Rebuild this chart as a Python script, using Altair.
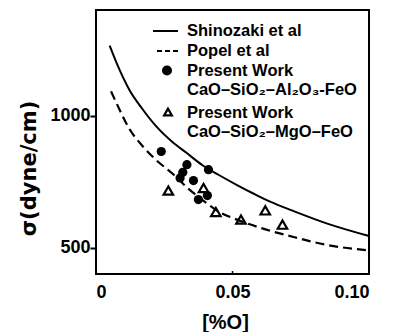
import altair as alt
import pandas as pd

# Curves
SHINOZAKI_X = [0.005, 0.0086, 0.0122, 0.017, 0.022, 0.028, 0.033, 0.039, 0.045, 0.052, 0.058, 0.064, 0.072, 0.085, 0.1]
SHINOZAKI_Y = [1265, 1174, 1098, 1025, 960, 900, 860, 812, 775, 735, 703, 673, 640, 590, 544]
POPEL_X = [0.0055, 0.0086, 0.0122, 0.0171, 0.022, 0.0284, 0.0333, 0.0394, 0.0455, 0.0516, 0.0602, 0.0724, 0.0847, 0.1]
POPEL_Y = [1092, 1023, 950, 884, 832, 777, 728, 677, 633, 606, 575, 540, 510, 489]

# Present work points
AL_X = [0.0239, 0.0333, 0.0318, 0.0308, 0.0357, 0.0412, 0.0408, 0.0375]
AL_Y = [864, 814, 785, 764, 754, 795, 697, 682]
MG_X = [0.0265, 0.0394, 0.0439, 0.0531, 0.0620, 0.0683]
MG_Y = [716, 726, 635, 606, 641, 587]

X_TICKS = [0, 0.05, 0.1]
Y_TICKS = [500, 1000]

LEGEND_TEXT = [
    "Shinozaki et al",
    "Popel et al",
    "Present Work",
    "CaO–SiO₂–Al₂O₃-FeO",
    "Present Work",
    "CaO–SiO₂–MgO–FeO",
]

W, H = 273, 264

shin = pd.DataFrame({"x": SHINOZAKI_X, "y": SHINOZAKI_Y})
pop = pd.DataFrame({"x": POPEL_X, "y": POPEL_Y})
al = pd.DataFrame({"x": AL_X, "y": AL_Y})
mg = pd.DataFrame({"x": MG_X, "y": MG_Y})

xscale = alt.Scale(domain=[0, 0.1], nice=False, zero=False)
yscale = alt.Scale(domain=[400, 1400], nice=False, zero=False)

xaxis = alt.Axis(
    values=X_TICKS,
    labelExpr="datum.value == 0 ? '0' : format(datum.value, '.2f')",
    ticks=False, domain=False, grid=False,
    labelFont="Liberation Sans", labelFontSize=18, labelFontWeight="bold",
    labelColor="black", labelPadding=9,
    title="[%O]", titleFont="Liberation Sans", titleFontSize=20,
    titleFontWeight="bold", titleColor="black",
    titleX=129, titleY=48, titleAlign="center", titleBaseline="middle",
)
yaxis = alt.Axis(
    values=Y_TICKS, format="d", domain=False, grid=False,
    tickSize=6, tickWidth=2, tickColor="black",
    labelFont="Liberation Sans", labelFontSize=18, labelFontWeight="bold",
    labelColor="black", labelPadding=0,
    title="σ(dyne/cm)", titleFont="DejaVu Sans", titleFontSize=21,
    titleFontWeight="bold", titleColor="black",
    titleX=-67, titleY=158, titleAngle=270, titleAlign="center",
    titleBaseline="middle",
)

base_x = alt.X("x:Q", scale=xscale, axis=xaxis)
base_y = alt.Y("y:Q", scale=yscale, axis=yaxis)

solid = alt.Chart(shin).mark_line(color="black", strokeWidth=2, interpolate="monotone").encode(x=base_x, y=base_y)
dashed = alt.Chart(pop).mark_line(color="black", strokeWidth=2.2, strokeDash=[9, 5], interpolate="monotone").encode(
    x=alt.X("x:Q", scale=xscale), y=alt.Y("y:Q", scale=yscale))
circles = alt.Chart(al).mark_circle(color="black", size=85, opacity=1).encode(
    x=alt.X("x:Q", scale=xscale), y=alt.Y("y:Q", scale=yscale))
tris = alt.Chart(mg).mark_point(shape="triangle-up", filled=False, color="black", strokeWidth=2.2, size=90, opacity=1).encode(
    x=alt.X("x:Q", scale=xscale), y=alt.Y("y:Q", scale=yscale))

tick = alt.Chart(pd.DataFrame({"x": [X_TICKS[1]]})).mark_rule(color="black", strokeWidth=1.5).encode(
    x=alt.X("x:Q", scale=xscale), y=alt.value(H), y2=alt.value(H - 3))

one = pd.DataFrame({"a": [0]})
rows = [21, 41, 60.5, 80, 103, 122]
leg = [
    alt.Chart(one).mark_rule(color="black", strokeWidth=2).encode(x=alt.value(57), x2=alt.value(82), y=alt.value(rows[0])),
    alt.Chart(one).mark_rule(color="black", strokeWidth=2, strokeDash=[5, 3]).encode(x=alt.value(61), x2=alt.value(82), y=alt.value(rows[1])),
    alt.Chart(one).mark_circle(color="black", size=100, opacity=1).encode(x=alt.value(71), y=alt.value(rows[2])),
    alt.Chart(one).mark_point(shape="triangle-up", filled=False, color="black", strokeWidth=2.2, size=60, opacity=1).encode(x=alt.value(72), y=alt.value(rows[4] - 1)),
]
for i, t in enumerate(LEGEND_TEXT):
    leg.append(
        alt.Chart(pd.DataFrame({"t": [t]})).mark_text(
            align="left", baseline="middle", font="Liberation Sans", fontSize=16.5,
            fontWeight="bold", color="black",
        ).encode(x=alt.value(91), y=alt.value(rows[i]), text="t:N")
    )

chart = alt.layer(solid, dashed, circles, tris, tick, *leg).properties(
    width=W, height=H,
    autosize=alt.AutoSizeParams(type="none"),
    padding={"left": 88, "top": 2, "right": 16, "bottom": 58},
).configure_view(stroke="black", strokeWidth=2).configure_axis(grid=False)

chart.save("out.html", embed_options={"renderer": "svg", "actions": False})
